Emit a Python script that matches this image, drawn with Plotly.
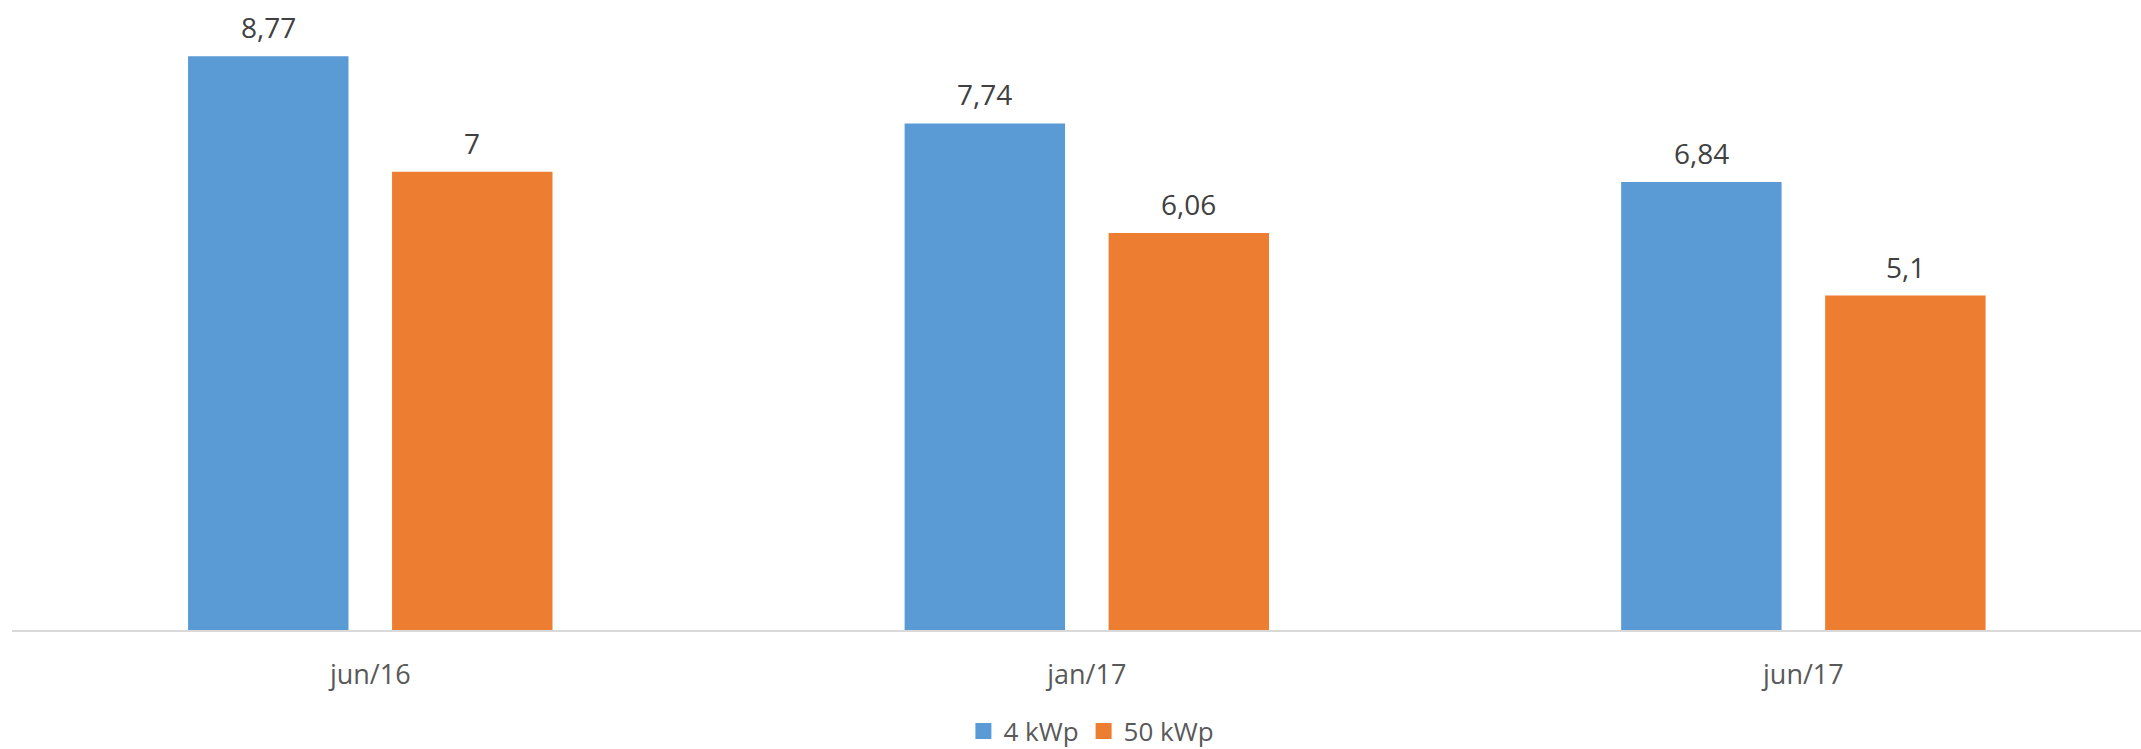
import plotly.graph_objects as go

categories = ["jun/16", "jan/17", "jun/17"]
series_names = ["4 kWp", "50 kWp"]
values_4kwp = [8.77, 7.74, 6.84]
values_50kwp = [7.0, 6.06, 5.1]
labels_4kwp = ["8,77", "7,74", "6,84"]
labels_50kwp = ["7", "6,06", "5,1"]

colors = ["#5B9BD5", "#ED7D31"]
PX_PER_CAT = 716.5
line_w = 4
bar_width = 0.2239 - line_w / PX_PER_CAT
offsets = [-0.2543 + line_w / 2 / PX_PER_CAT, 0.0304 + line_w / 2 / PX_PER_CAT]
FONT = "Open Sans"

fig = go.Figure()
series = [(values_4kwp, labels_4kwp), (values_50kwp, labels_50kwp)]
for (vals, labs), name, col, off in zip(series, series_names, colors, offsets):
    fig.add_trace(go.Bar(
        x=categories, y=vals, name=name,
        marker=dict(color=col, line=dict(width=line_w, color=col)),
        width=bar_width, offset=off,
    ))
    for i, (v, t) in enumerate(zip(vals, labs)):
        fig.add_annotation(
            x=i + off + bar_width / 2, y=v, xref="x", yref="y",
            text=t, showarrow=False, yanchor="bottom", yshift=10,
            font=dict(family=FONT, size=28, color="#404040"),
        )

fig.update_layout(
    width=2141, height=749,
    margin=dict(l=12, r=0, t=0, b=119, autoexpand=False),
    paper_bgcolor="white", plot_bgcolor="white",
    barmode="group",
    showlegend=True,
    legend=dict(
        orientation="h", x=0.507, xanchor="center", y=-0.1603, yanchor="middle",
        font=dict(family=FONT, size=26, color="#595959"),
        itemwidth=30, traceorder="normal",
    ),
    font=dict(family=FONT),
)
fig.update_xaxes(
    range=[-0.5, 2.4712],
    showline=True, linecolor="#D9D9D9", linewidth=2,
    showgrid=False, zeroline=False,
    ticks="", ticklabelstandoff=20,
    tickfont=dict(family=FONT, size=27, color="#595959"),
)
fig.update_yaxes(
    range=[0, 9.664], visible=False, showgrid=False, zeroline=False,
)

fig.write_html(
    "out.html",
    config={"displayModeBar": False},
    post_script="document.body.style.margin='0';document.body.style.overflow='hidden';",
)
